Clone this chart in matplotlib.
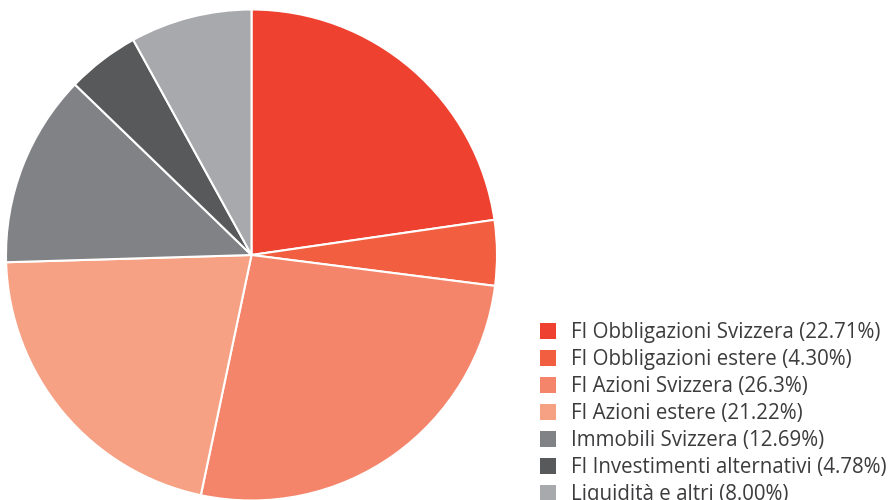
import matplotlib
matplotlib.use("Agg")
import matplotlib.pyplot as plt
from matplotlib.patches import Rectangle

labels = ["FI Obbligazioni Svizzera", "FI Obbligazioni estere", "FI Azioni Svizzera",
          "FI Azioni estere", "Immobili Svizzera", "FI Investimenti alternativi",
          "Liquidità e altri"]
pct_labels = ["22.71%", "4.30%", "26.3%", "21.22%", "12.69%", "4.78%", "8.00%"]
values = [22.71, 4.30, 26.3, 21.22, 12.69, 4.78, 8.00]
colors = ["#EF4130", "#F15E40", "#F4856A", "#F6A184", "#808285", "#58595B", "#A7A9AC"]

W, H = 893, 500
fig = plt.figure(figsize=(W / 100, H / 100), dpi=100)
cx, cy, r = 251.5, 255, 245.5
ax = fig.add_axes([(cx - r) / W, (H - cy - r) / H, 2 * r / W, 2 * r / H])
wedges, _ = ax.pie(values, colors=colors, startangle=90, counterclock=False,
                   radius=1, wedgeprops=dict(edgecolor="white", linewidth=1.5))
ax.set_xlim(-1, 1)
ax.set_ylim(-1, 1)
ax.set_aspect("equal")
ax.axis("off")

# legend drawn in figure pixel coordinates
sq = 16
x0 = 540
y_top = 331.3
step = 27.0
for i, (lab, pct, col) in enumerate(zip(labels, pct_labels, colors)):
    yc = y_top + i * step
    fig.patches.append(Rectangle(((x0) / W, (H - yc - sq / 2) / H), sq / W, sq / H,
                                 transform=fig.transFigure, facecolor=col,
                                 edgecolor="none", figure=fig))
    fig.text(571 / W, (H - yc - 7.0) / H, f"{lab} ({pct})", ha="left", va="baseline",
             fontsize=14.8, family="Open Sans", color="#3c3c3e")

fig.savefig("out.png", dpi=100)
